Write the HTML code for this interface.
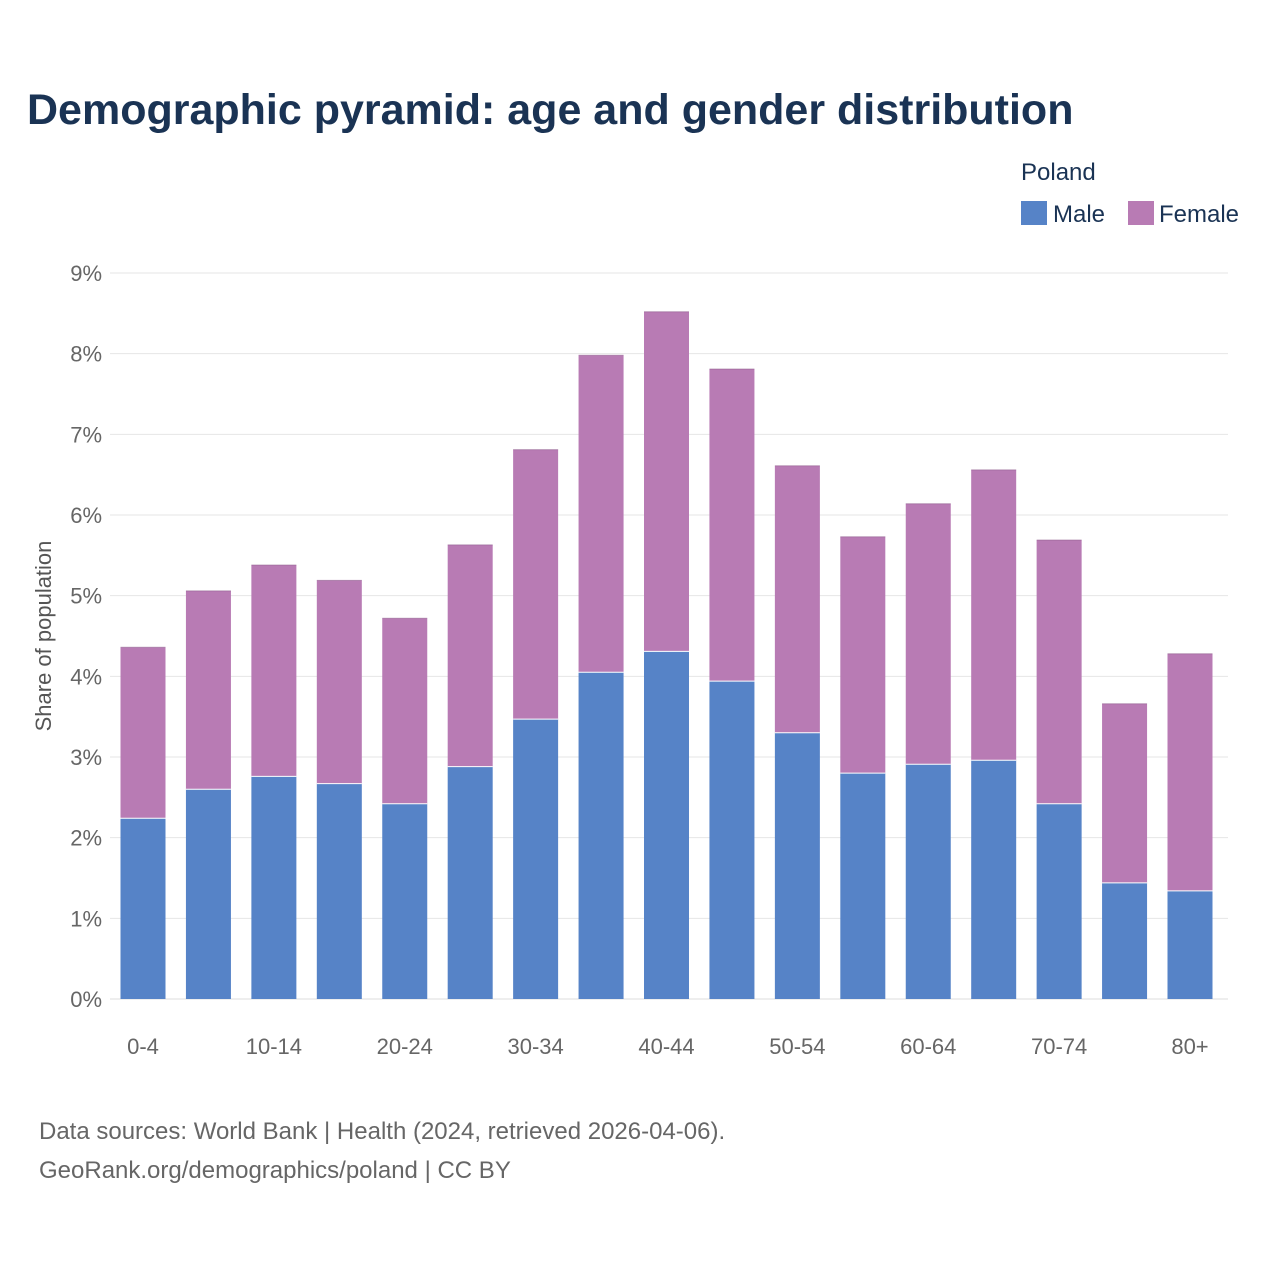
<!DOCTYPE html>
<html><head><meta charset="utf-8"><style>
body{margin:0;background:#fff;width:1280px;height:1280px;overflow:hidden;font-family:"Liberation Sans",sans-serif;}
</style></head><body>
<svg id="chart" width="1280" height="1280" xmlns="http://www.w3.org/2000/svg">
<text x="27" y="124" font-size="43" font-weight="bold" fill="#1a3354">Demographic pyramid: age and gender distribution</text>
<text x="1021" y="180" font-size="24" fill="#1a3354">Poland</text>
<rect x="1021" y="201" width="26" height="24" fill="#5683c7"/>
<text x="1053" y="222" font-size="24" fill="#1a3354">Male</text>
<rect x="1128" y="201" width="26" height="24" fill="#b87bb4"/>
<text x="1159" y="222" font-size="24" fill="#1a3354">Female</text>
<text transform="translate(51,636) rotate(-90)" text-anchor="middle" font-size="22" fill="#555">Share of population</text>
<g id="grid"></g><g id="bars"></g><g id="xt"></g>
<text x="39" y="1139" font-size="24" fill="#666">Data sources: World Bank | Health (2024, retrieved 2026-04-06).</text>
<text x="39" y="1178" font-size="24" fill="#666">GeoRank.org/demographics/poland | CC BY</text>
</svg>
<script>
const categories=["0-4","5-9","10-14","15-19","20-24","25-29","30-34","35-39","40-44","45-49","50-54","55-59","60-64","65-69","70-74","75-79","80+"];
const male=[2.24,2.60,2.76,2.67,2.42,2.88,3.47,4.05,4.31,3.94,3.30,2.80,2.91,2.96,2.42,1.44,1.34];
const female=[2.12,2.46,2.62,2.52,2.30,2.75,3.34,3.93,4.21,3.87,3.31,2.93,3.23,3.60,3.27,2.22,2.94];
const yTicks=[0,1,2,3,4,5,6,7,8,9];
const xLabelEvery=2;
const NS="http://www.w3.org/2000/svg";
const y0=999,pxPer=(999-273)/9,gx0=110,gx1=1228;
const firstC=143,lastC=1190,bw=45;
const step=(lastC-firstC)/(categories.length-1);
const ys=v=>y0-v*pxPer, xs=i=>firstC+step*i;
function mk(t,a,p){const e=document.createElementNS(NS,t);for(const k in a)e.setAttribute(k,a[k]);p.appendChild(e);return e;}
const g=document.getElementById('grid');
yTicks.forEach(t=>{
 const l=mk('line',{x1:gx0,x2:gx1,y1:ys(t),y2:ys(t),stroke:t===0?'#dcdcdc':'#e6e6e6','stroke-width':1},g);
 
 
 const tx=mk('text',{x:102,y:ys(t)+8,'text-anchor':'end','font-size':22,fill:'#666'},g);
 tx.textContent=t+'%';
 
 
});
const b=document.getElementById('bars'),xt=document.getElementById('xt');
categories.forEach((c,i)=>{
 const cx=xs(i);
 const m=mk('rect',{x:cx-bw/2,y:ys(male[i]),width:bw,height:male[i]*pxPer,fill:'#5683c7'},b);
 
 
 const f=mk('rect',{x:cx-bw/2,y:ys(male[i]+female[i]),width:bw,height:female[i]*pxPer,fill:'#b87bb4'},b);
 
 
 mk('line',{x1:cx-bw/2,x2:cx+bw/2,y1:ys(male[i]),y2:ys(male[i]),stroke:'#fff','stroke-width':1},b);
 mk('line',{x1:cx-bw/2,x2:cx+bw/2,y1:ys(male[i]+female[i]),y2:ys(male[i]+female[i]),stroke:'#8a5a88','stroke-width':1,opacity:0.5},b);
 if(i%xLabelEvery===0){
  const t=mk('text',{x:cx,y:1054,'text-anchor':'middle','font-size':22,fill:'#666'},xt);
  t.textContent=c;
  
  
 }
});
</script>
</body></html>
